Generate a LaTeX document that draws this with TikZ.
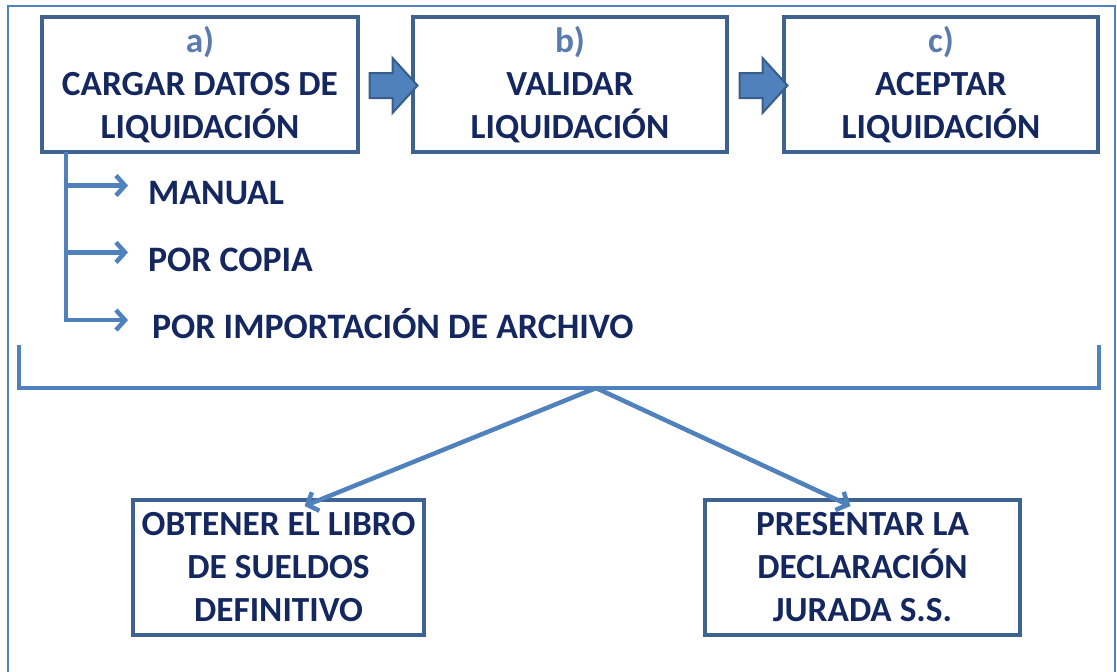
\documentclass[tikz,border=0pt]{standalone}
\usepackage{fontspec}
\setmainfont{Carlito}
\usepackage{tikz}
\usepackage{xcolor}
\usetikzlibrary{shapes,arrows.meta,calc}

\definecolor{boxline}{HTML}{3F6391}
\definecolor{txtblue}{HTML}{14275F}
\definecolor{lettblue}{HTML}{5B7BAE}
\definecolor{arrblue}{HTML}{4F81BD}
\definecolor{arrdark}{HTML}{385D8A}

\tikzset{
  stepbox/.style={draw=boxline, line width=4pt, minimum width=314pt, minimum height=135pt,
    align=center, text=txtblue, font=\bfseries\fontsize{35.3}{43}\selectfont, inner sep=0pt},
  blockarrow/.style={draw=arrdark, fill=arrblue, line width=2pt, line join=miter},
  flow/.style={arrblue, line width=4.5pt, -{Straight Barb[length=9pt,width=20pt]}},
  item/.style={text=txtblue, font=\bfseries\fontsize{35.8}{40}\selectfont, anchor=base west, inner sep=0pt}
}

\begin{document}
\begin{tikzpicture}[x=1pt,y=-1pt]
    \useasboundingbox (0,0) rectangle (1117,672);
    \draw[arrblue, line width=1.2pt] (8,6) rectangle (1115,700);
    \node[stepbox, minimum width=316pt] (carga) at (200,84.5) {{\color{lettblue}a)}\\CARGAR DATOS DE\\LIQUIDACIÓN};
    \node[stepbox] (valida) at (570,84.5) {{\color{lettblue}b)}\\VALIDAR\\LIQUIDACIÓN};
    \node[stepbox] (acepta) at (941,84.5) {{\color{lettblue}c)}\\ACEPTAR\\LIQUIDACIÓN};
    \coordinate (arrAB) at ($(carga.east)!0.5!(valida.west)+(7,1)$);
    \coordinate (arrBC) at ($(valida.east)!0.5!(acepta.west)+(7,1)$);
    \foreach \a in {arrAB,arrBC}
        \draw[blockarrow] ($(\a)+(-23,-12.5)$) -- ++(23,0) -- ++(0,-15) -- ++(25,27.5)
            -- ++(-25,27.5) -- ++(0,-15) -- ++(-23,0) -- cycle;
    \node[item] (man) at (148,204) {MANUAL};
    \node[item] (copia) at (148,271) {POR COPIA};
    \node[item] (imp) at (152,338) {POR IMPORTACIÓN DE ARCHIVO};
    \coordinate (trunk) at (66,152);
    \foreach \n in {man,copia}
        \draw[flow] (trunk |- {$(\n.west)+(0,-7)$}) -- ($(\n.west)+(-20,-7)$);
    \draw[flow] (trunk) |- ($(imp.west)+(-24,-3)$);
    \coordinate (brL) at (19,345);
    \coordinate (brR) at (1099,345);
    \coordinate (apex) at (596,388);
    \draw[arrblue, line width=4.5pt] (brL) |- (apex) -| (brR);
    \node[stepbox, minimum width=291pt] (libro) at (278.5,567.5) {OBTENER EL LIBRO\\DE SUELDOS\\DEFINITIVO};
    \node[stepbox, minimum width=315pt] (ddjj) at (862.5,567.5) {PRESENTAR LA\\DECLARACIÓN\\JURADA S.S.};
    \draw[flow] (apex) -- ($(libro.north)+(26,8)$);
    \draw[flow] (apex) -- ($(ddjj.north)+(-12,8)$);
\end{tikzpicture}
\end{document}
